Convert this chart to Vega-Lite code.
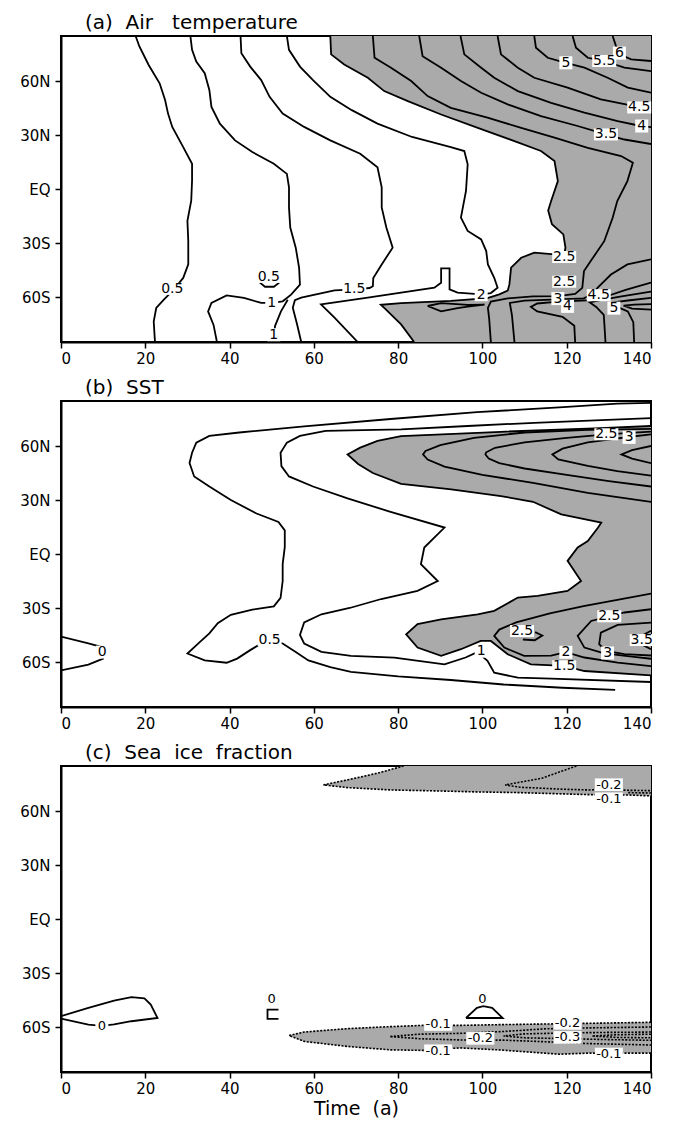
{
"$schema": "https://vega.github.io/schema/vega-lite/v6.json",
"background": "white",
"padding": {"left": 18, "top": 12, "right": 10, "bottom": 5},
"spacing": 10,
"config": {
  "view": {"stroke": "black", "strokeWidth": 2},
  "font": "DejaVu Sans",
  "axis": {"grid": false, "domain": true, "domainColor": "black", "domainWidth": 2, "ticks": true, "tickColor": "black", "tickSize": 6, "tickWidth": 1.5, "labelColor": "black", "labelFontSize": 15, "labelFont": "DejaVu Sans", "titleFont": "DejaVu Sans", "titleFontSize": 19, "titleFontWeight": "normal", "titleColor": "black", "zindex": 1},
  "title": {"anchor": "start", "frame": "group", "fontSize": 20, "fontWeight": "normal", "font": "DejaVu Sans", "offset": 3, "dx": 24, "color": "black"}
},
"datasets": {
"A": [
{"t":"f","g":"fa","x":63.9,"y":85},{"t":"f","g":"fa","x":64.1,"y":74.8},{"t":"f","g":"fa","x":67.2,"y":69.2},{"t":"f","g":"fa","x":72.8,"y":61.8},{"t":"f","g":"fa","x":76.7,"y":54.4},{"t":"f","g":"fa","x":82.3,"y":48.8},{"t":"f","g":"fa","x":90.2,"y":41.4},{"t":"f","g":"fa","x":98.9,"y":34},{"t":"f","g":"fa","x":107.6,"y":26.6},{"t":"f","g":"fa","x":113.9,"y":21.1},{"t":"f","g":"fa","x":117.1,"y":15.5},{"t":"f","g":"fa","x":117.9,"y":4.4},{"t":"f","g":"fa","x":116.3,"y":-6.7},{"t":"f","g":"fa","x":115.6,"y":-12},{"t":"f","g":"fa","x":116.5,"y":-19.6},{"t":"f","g":"fa","x":119.2,"y":-25.2},{"t":"f","g":"fa","x":119.7,"y":-32.6},{"t":"f","g":"fa","x":119.4,"y":-36.5},{"t":"f","g":"fa","x":117.1,"y":-36.3},{"t":"f","g":"fa","x":112.3,"y":-35.4},{"t":"f","g":"fa","x":109.2,"y":-38.2},{"t":"f","g":"fa","x":106.8,"y":-43.7},{"t":"f","g":"fa","x":106.4,"y":-53},{"t":"f","g":"fa","x":106,"y":-56.5},{"t":"f","g":"fa","x":104,"y":-58.5},{"t":"f","g":"fa","x":101.2,"y":-60.6},{"t":"f","g":"fa","x":92.5,"y":-62.2},{"t":"f","g":"fa","x":80.7,"y":-63.4},{"t":"f","g":"fa","x":75.9,"y":-64.3},{"t":"f","g":"fa","x":76.7,"y":-66},{"t":"f","g":"fa","x":80.7,"y":-75.2},{"t":"f","g":"fa","x":83.8,"y":-85},{"t":"f","g":"fa","x":140,"y":-85},{"t":"f","g":"fa","x":140,"y":85},

{"t":"s","g":"a05","x":17.7,"y":85},{"t":"s","g":"a05","x":18.6,"y":79.2},{"t":"s","g":"a05","x":20.8,"y":68.9},{"t":"s","g":"a05","x":23.4,"y":58.7},{"t":"s","g":"a05","x":24.7,"y":49.4},{"t":"s","g":"a05","x":25.4,"y":41.9},{"t":"s","g":"a05","x":26.4,"y":34.5},{"t":"s","g":"a05","x":29,"y":23.3},{"t":"s","g":"a05","x":31.1,"y":14},{"t":"s","g":"a05","x":31.1,"y":4.7},{"t":"s","g":"a05","x":30.9,"y":-6.5},{"t":"s","g":"a05","x":30,"y":-17.7},{"t":"s","g":"a05","x":30.2,"y":-28.9},{"t":"s","g":"a05","x":30.2,"y":-41.9},{"t":"s","g":"a05","x":29,"y":-49.4},{"t":"s","g":"a05","x":26.4,"y":-56.8},{"t":"s","g":"a05","x":24.4,"y":-61.5},{"t":"s","g":"a05","x":22.6,"y":-66.1},{"t":"s","g":"a05","x":22,"y":-73.6},{"t":"s","g":"a05","x":22.3,"y":-85},

{"t":"s","g":"a10","x":30.7,"y":85},{"t":"s","g":"a10","x":31.1,"y":77.3},{"t":"s","g":"a10","x":32.1,"y":70.8},{"t":"s","g":"a10","x":34.1,"y":64.3},{"t":"s","g":"a10","x":35.2,"y":55},{"t":"s","g":"a10","x":35.7,"y":45.6},{"t":"s","g":"a10","x":37.7,"y":36.3},{"t":"s","g":"a10","x":41.3,"y":27},{"t":"s","g":"a10","x":45.4,"y":20.5},{"t":"s","g":"a10","x":50.5,"y":14},{"t":"s","g":"a10","x":53.6,"y":8.4},{"t":"s","g":"a10","x":54.1,"y":0.9},{"t":"s","g":"a10","x":54.1,"y":-10.2},{"t":"s","g":"a10","x":54.4,"y":-21.4},{"t":"s","g":"a10","x":55.7,"y":-32.6},{"t":"s","g":"a10","x":56.5,"y":-43.8},{"t":"s","g":"a10","x":56.7,"y":-53.1},{"t":"s","g":"a10","x":54.6,"y":-58.7},{"t":"s","g":"a10","x":52.6,"y":-62.4},{"t":"s","g":"a10","x":50,"y":-63.3},{"t":"s","g":"a10","x":47.5,"y":-63.3},{"t":"s","g":"a10","x":43.4,"y":-60.5},{"t":"s","g":"a10","x":39.3,"y":-59.1},{"t":"s","g":"a10","x":35.7,"y":-63.3},{"t":"s","g":"a10","x":34.9,"y":-68},{"t":"s","g":"a10","x":36.2,"y":-75.5},{"t":"s","g":"a10","x":37,"y":-85},

{"t":"s","g":"a10b","x":53.8,"y":-61.5},{"t":"s","g":"a10b","x":52.2,"y":-68},{"t":"s","g":"a10b","x":50.8,"y":-76},{"t":"s","g":"a10b","x":50.3,"y":-85},

{"t":"s","g":"a05m","x":47.2,"y":-52},{"t":"s","g":"a05m","x":48.4,"y":-54.3},{"t":"s","g":"a05m","x":50.5,"y":-54.3},{"t":"s","g":"a05m","x":51.8,"y":-52},

{"t":"s","g":"a15","x":42.6,"y":85},{"t":"s","g":"a15","x":42.8,"y":75.4},{"t":"s","g":"a15","x":44.9,"y":68},{"t":"s","g":"a15","x":47.5,"y":60.5},{"t":"s","g":"a15","x":49.5,"y":51.2},{"t":"s","g":"a15","x":52.6,"y":41.9},{"t":"s","g":"a15","x":57.7,"y":34.5},{"t":"s","g":"a15","x":63.9,"y":27},{"t":"s","g":"a15","x":71,"y":19.6},{"t":"s","g":"a15","x":75.1,"y":12.1},{"t":"s","g":"a15","x":76.1,"y":0.9},{"t":"s","g":"a15","x":76.1,"y":-10.2},{"t":"s","g":"a15","x":77.2,"y":-21.4},{"t":"s","g":"a15","x":78.7,"y":-32.6},{"t":"s","g":"a15","x":76.1,"y":-41.9},{"t":"s","g":"a15","x":74.1,"y":-49.4},{"t":"s","g":"a15","x":74,"y":-54},{"t":"s","g":"a15","x":73.2,"y":-55},{"t":"s","g":"a15","x":69.6,"y":-55.8},{"t":"s","g":"a15","x":64.9,"y":-56.3},{"t":"s","g":"a15","x":57,"y":-60.4},{"t":"s","g":"a15","x":55.5,"y":-61.8},{"t":"s","g":"a15","x":55,"y":-66},{"t":"s","g":"a15","x":56,"y":-75},{"t":"s","g":"a15","x":57,"y":-85},

{"t":"s","g":"a20","x":53.6,"y":85},{"t":"s","g":"a20","x":54.1,"y":77.3},{"t":"s","g":"a20","x":56.7,"y":68},{"t":"s","g":"a20","x":59.8,"y":60.5},{"t":"s","g":"a20","x":63.9,"y":51.2},{"t":"s","g":"a20","x":69,"y":43.8},{"t":"s","g":"a20","x":75.1,"y":36.3},{"t":"s","g":"a20","x":83.3,"y":28.9},{"t":"s","g":"a20","x":92.5,"y":23.3},{"t":"s","g":"a20","x":95.7,"y":21.1},{"t":"s","g":"a20","x":96.5,"y":13.7},{"t":"s","g":"a20","x":96.1,"y":-1.1},{"t":"s","g":"a20","x":94.9,"y":-15.9},{"t":"s","g":"a20","x":96.5,"y":-23.3},{"t":"s","g":"a20","x":99.7,"y":-28},{"t":"s","g":"a20","x":100.9,"y":-34.5},{"t":"s","g":"a20","x":101.3,"y":-41.9},{"t":"s","g":"a20","x":102.8,"y":-49.3},{"t":"s","g":"a20","x":103.6,"y":-54.8},{"t":"s","g":"a20","x":102,"y":-57.8},{"t":"s","g":"a20","x":99.7,"y":-58.5},{"t":"s","g":"a20","x":94.1,"y":-57.6},{"t":"s","g":"a20","x":92.2,"y":-55.8},{"t":"s","g":"a20","x":92.2,"y":-44.1},{"t":"s","g":"a20","x":90.2,"y":-44.1},{"t":"s","g":"a20","x":90.2,"y":-52.1},{"t":"s","g":"a20","x":88.6,"y":-54.8},{"t":"s","g":"a20","x":72.8,"y":-60.4},{"t":"s","g":"a20","x":61.7,"y":-64.1},{"t":"s","g":"a20","x":64.9,"y":-71.5},{"t":"s","g":"a20","x":70.4,"y":-85},

{"t":"s","g":"a25","x":63.9,"y":85},{"t":"s","g":"a25","x":64.1,"y":74.8},{"t":"s","g":"a25","x":67.2,"y":69.2},{"t":"s","g":"a25","x":72.8,"y":61.8},{"t":"s","g":"a25","x":76.7,"y":54.4},{"t":"s","g":"a25","x":82.3,"y":48.8},{"t":"s","g":"a25","x":90.2,"y":41.4},{"t":"s","g":"a25","x":98.9,"y":34},{"t":"s","g":"a25","x":107.6,"y":26.6},{"t":"s","g":"a25","x":113.9,"y":21.1},{"t":"s","g":"a25","x":117.1,"y":15.5},{"t":"s","g":"a25","x":117.9,"y":4.4},{"t":"s","g":"a25","x":116.3,"y":-6.7},{"t":"s","g":"a25","x":115.6,"y":-12},{"t":"s","g":"a25","x":116.5,"y":-19.6},{"t":"s","g":"a25","x":119.2,"y":-25.2},{"t":"s","g":"a25","x":119.7,"y":-32.6},{"t":"s","g":"a25","x":119.4,"y":-36.5},{"t":"s","g":"a25","x":117.1,"y":-36.3},{"t":"s","g":"a25","x":112.3,"y":-35.4},{"t":"s","g":"a25","x":109.2,"y":-38.2},{"t":"s","g":"a25","x":106.8,"y":-43.7},{"t":"s","g":"a25","x":106.4,"y":-53},{"t":"s","g":"a25","x":106,"y":-56.5},{"t":"s","g":"a25","x":104,"y":-58.5},{"t":"s","g":"a25","x":101.2,"y":-60.6},{"t":"s","g":"a25","x":92.5,"y":-62.2},{"t":"s","g":"a25","x":80.7,"y":-63.4},{"t":"s","g":"a25","x":75.9,"y":-64.3},{"t":"s","g":"a25","x":76.7,"y":-66},{"t":"s","g":"a25","x":80.7,"y":-75.2},{"t":"s","g":"a25","x":83.8,"y":-85},

{"t":"s","g":"a30","x":74,"y":85},{"t":"s","g":"a30","x":74.4,"y":72.9},{"t":"s","g":"a30","x":78.3,"y":67.4},{"t":"s","g":"a30","x":83.1,"y":60},{"t":"s","g":"a30","x":87,"y":51.6},{"t":"s","g":"a30","x":92.5,"y":45.1},{"t":"s","g":"a30","x":101.2,"y":39.6},{"t":"s","g":"a30","x":109.2,"y":34},{"t":"s","g":"a30","x":117.1,"y":28.5},{"t":"s","g":"a30","x":125,"y":22.9},{"t":"s","g":"a30","x":132.9,"y":18.3},{"t":"s","g":"a30","x":135.7,"y":14.6},{"t":"s","g":"a30","x":134.4,"y":4.4},{"t":"s","g":"a30","x":132,"y":-6.7},{"t":"s","g":"a30","x":130.9,"y":-16},{"t":"s","g":"a30","x":128.9,"y":-29},{"t":"s","g":"a30","x":125.7,"y":-40},{"t":"s","g":"a30","x":124.1,"y":-45.6},{"t":"s","g":"a30","x":123.7,"y":-54.9},{"t":"s","g":"a30","x":122,"y":-58.3},{"t":"s","g":"a30","x":118,"y":-59.5},{"t":"s","g":"a30","x":112,"y":-59.7},{"t":"s","g":"a30","x":106,"y":-60.8},{"t":"s","g":"a30","x":102,"y":-62.5},{"t":"s","g":"a30","x":101.3,"y":-66},{"t":"s","g":"a30","x":101.6,"y":-72},{"t":"s","g":"a30","x":102,"y":-85},

{"t":"s","g":"a35","x":85,"y":85},{"t":"s","g":"a35","x":85.8,"y":73.8},{"t":"s","g":"a35","x":90.2,"y":67.4},{"t":"s","g":"a35","x":94.9,"y":60},{"t":"s","g":"a35","x":99.7,"y":53.5},{"t":"s","g":"a35","x":106,"y":47},{"t":"s","g":"a35","x":113.9,"y":40.5},{"t":"s","g":"a35","x":122.6,"y":35},{"t":"s","g":"a35","x":129.3,"y":30.3},{"t":"s","g":"a35","x":133.7,"y":27.5},{"t":"s","g":"a35","x":140,"y":25},

{"t":"s","g":"a40","x":94.8,"y":85},{"t":"s","g":"a40","x":95.7,"y":74.8},{"t":"s","g":"a40","x":99.7,"y":67.4},{"t":"s","g":"a40","x":102.8,"y":61.8},{"t":"s","g":"a40","x":108.4,"y":54.4},{"t":"s","g":"a40","x":116.3,"y":47.9},{"t":"s","g":"a40","x":124.2,"y":42.4},{"t":"s","g":"a40","x":132.1,"y":37.7},{"t":"s","g":"a40","x":137.6,"y":35},{"t":"s","g":"a40","x":140,"y":34.4},

{"t":"s","g":"a45","x":103.6,"y":85},{"t":"s","g":"a45","x":104.4,"y":74.8},{"t":"s","g":"a45","x":108.4,"y":67.4},{"t":"s","g":"a45","x":112.3,"y":61.8},{"t":"s","g":"a45","x":120.2,"y":56.3},{"t":"s","g":"a45","x":128.1,"y":49.8},{"t":"s","g":"a45","x":136.1,"y":46.1},{"t":"s","g":"a45","x":140,"y":44.2},

{"t":"s","g":"a50","x":112.3,"y":85},{"t":"s","g":"a50","x":112.7,"y":78.5},{"t":"s","g":"a50","x":115.5,"y":72.9},{"t":"s","g":"a50","x":119.8,"y":70.1},{"t":"s","g":"a50","x":124.2,"y":67.4},{"t":"s","g":"a50","x":129.7,"y":61.8},{"t":"s","g":"a50","x":134.5,"y":56.3},{"t":"s","g":"a50","x":140,"y":53.5},

{"t":"s","g":"a55","x":121.4,"y":85},{"t":"s","g":"a55","x":122.2,"y":78.5},{"t":"s","g":"a55","x":125,"y":72.9},{"t":"s","g":"a55","x":128.9,"y":71.1},{"t":"s","g":"a55","x":133.7,"y":67.4},{"t":"s","g":"a55","x":140,"y":65.5},

{"t":"s","g":"a60","x":130.9,"y":85},{"t":"s","g":"a60","x":131.7,"y":79.4},{"t":"s","g":"a60","x":132.5,"y":74.8},{"t":"s","g":"a60","x":135.3,"y":72},{"t":"s","g":"a60","x":140,"y":71.1},

{"t":"s","g":"aR","x":140,"y":-39.1},{"t":"s","g":"aR","x":134.4,"y":-41.9},{"t":"s","g":"aR","x":130.5,"y":-47.5},{"t":"s","g":"aR","x":127.3,"y":-54.9},{"t":"s","g":"aR","x":126.1,"y":-58.6},{"t":"s","g":"aR","x":124,"y":-60.8},{"t":"s","g":"aR","x":118,"y":-61.3},{"t":"s","g":"aR","x":110,"y":-62},{"t":"s","g":"aR","x":106.5,"y":-63.3},{"t":"s","g":"aR","x":107,"y":-70},{"t":"s","g":"aR","x":107.6,"y":-85},

{"t":"s","g":"aB4","x":140,"y":-52},{"t":"s","g":"aB4","x":134,"y":-56},{"t":"s","g":"aB4","x":129,"y":-60},{"t":"s","g":"aB4","x":125,"y":-61.8},{"t":"s","g":"aB4","x":118,"y":-62.6},{"t":"s","g":"aB4","x":113,"y":-63.6},{"t":"s","g":"aB4","x":111.5,"y":-65.5},{"t":"s","g":"aB4","x":113,"y":-68},{"t":"s","g":"aB4","x":119,"y":-71},{"t":"s","g":"aB4","x":121.8,"y":-76},{"t":"s","g":"aB4","x":122,"y":-85},

{"t":"s","g":"aB45","x":140,"y":-57},{"t":"s","g":"aB45","x":133,"y":-59.6},{"t":"s","g":"aB45","x":128,"y":-61.8},{"t":"s","g":"aB45","x":125.5,"y":-63},{"t":"s","g":"aB45","x":127,"y":-65.5},{"t":"s","g":"aB45","x":128.8,"y":-70},{"t":"s","g":"aB45","x":129.2,"y":-85},

{"t":"s","g":"aB5","x":140,"y":-60.5},{"t":"s","g":"aB5","x":135,"y":-61.8},{"t":"s","g":"aB5","x":131,"y":-63},{"t":"s","g":"aB5","x":132,"y":-65.5},{"t":"s","g":"aB5","x":134.5,"y":-68},{"t":"s","g":"aB5","x":135.8,"y":-74},{"t":"s","g":"aB5","x":136,"y":-85},

{"t":"s","g":"aB55","x":140,"y":-64},{"t":"s","g":"aB55","x":136,"y":-64.2},{"t":"s","g":"aB55","x":133.5,"y":-64.8},{"t":"s","g":"aB55","x":135.5,"y":-66.5},{"t":"s","g":"aB55","x":140,"y":-67},

{"t":"s","g":"aL","x":87,"y":-65},{"t":"s","g":"aL","x":90.2,"y":-63.4},{"t":"s","g":"aL","x":96.5,"y":-64.4},{"t":"s","g":"aL","x":100.5,"y":-64.2},{"t":"s","g":"aL","x":96.5,"y":-65.4},{"t":"s","g":"aL","x":94.1,"y":-66.2},{"t":"s","g":"aL","x":90.2,"y":-68},{"t":"s","g":"aL","x":87,"y":-65}
],
"AL": [
{"s":"0.5","x":26.4,"y":-55.5},{"s":"0.5","x":49.3,"y":-48.8},{"s":"1","x":50,"y":-63.3},{"s":"1","x":50.5,"y":-81},{"s":"1.5","x":69.6,"y":-55.8},{"s":"2","x":99.7,"y":-58.7},{"s":"2.5","x":119.4,"y":-37.8},{"s":"2.5","x":119.4,"y":-51.5},{"s":"3","x":117.9,"y":-60.9},{"s":"4","x":120.2,"y":-65.2},{"s":"4.5","x":127.6,"y":-59},{"s":"5","x":131.2,"y":-66.2},{"s":"3.5","x":129.3,"y":30.3},{"s":"4","x":137.8,"y":35},{"s":"4.5","x":137.2,"y":45.3},{"s":"5","x":119.8,"y":70.1},{"s":"5.5","x":128.9,"y":71.1},{"s":"6","x":132.5,"y":75.5}
],
"B": [
{"t":"f","g":"fb","x":140,"y":71.1},{"t":"f","g":"fb","x":126.6,"y":69.8},{"t":"f","g":"fb","x":104.4,"y":67.9},{"t":"f","g":"fb","x":80.7,"y":65.5},{"t":"f","g":"fb","x":75.1,"y":62.8},{"t":"f","g":"fb","x":71,"y":59.1},{"t":"f","g":"fb","x":68,"y":55.3},{"t":"f","g":"fb","x":70.5,"y":50},{"t":"f","g":"fb","x":74,"y":45},{"t":"f","g":"fb","x":80.7,"y":39},{"t":"f","g":"fb","x":92.6,"y":35.9},{"t":"f","g":"fb","x":104.4,"y":32.2},{"t":"f","g":"fb","x":112,"y":29},{"t":"f","g":"fb","x":118.7,"y":22},{"t":"f","g":"fb","x":128.2,"y":17.4},{"t":"f","g":"fb","x":127.4,"y":14.6},{"t":"f","g":"fb","x":125,"y":7.2},{"t":"f","g":"fb","x":122.6,"y":3.6},{"t":"f","g":"fb","x":120.2,"y":-3.8},{"t":"f","g":"fb","x":123.4,"y":-15},{"t":"f","g":"fb","x":120.2,"y":-20.5},{"t":"f","g":"fb","x":113.1,"y":-23.3},{"t":"f","g":"fb","x":108.4,"y":-24.2},{"t":"f","g":"fb","x":102.8,"y":-31.6},{"t":"f","g":"fb","x":98.9,"y":-33.5},{"t":"f","g":"fb","x":90.2,"y":-36.3},{"t":"f","g":"fb","x":84.6,"y":-39},{"t":"f","g":"fb","x":81.9,"y":-44.6},{"t":"f","g":"fb","x":84.6,"y":-52},{"t":"f","g":"fb","x":90.2,"y":-56.6},{"t":"f","g":"fb","x":94.9,"y":-52.9},{"t":"f","g":"fb","x":99.6,"y":-48.3},{"t":"f","g":"fb","x":102,"y":-48.3},{"t":"f","g":"fb","x":106,"y":-55.7},{"t":"f","g":"fb","x":111.5,"y":-61.3},{"t":"f","g":"fb","x":119.4,"y":-62.2},{"t":"f","g":"fb","x":124.2,"y":-65},{"t":"f","g":"fb","x":140,"y":-67.4},

{"t":"s","g":"b15","x":140,"y":71.1},{"t":"s","g":"b15","x":126.6,"y":69.8},{"t":"s","g":"b15","x":104.4,"y":67.9},{"t":"s","g":"b15","x":80.7,"y":65.5},{"t":"s","g":"b15","x":75.1,"y":62.8},{"t":"s","g":"b15","x":71,"y":59.1},{"t":"s","g":"b15","x":68,"y":55.3},{"t":"s","g":"b15","x":70.5,"y":50},{"t":"s","g":"b15","x":74,"y":45},{"t":"s","g":"b15","x":80.7,"y":39},{"t":"s","g":"b15","x":92.6,"y":35.9},{"t":"s","g":"b15","x":104.4,"y":32.2},{"t":"s","g":"b15","x":112,"y":29},{"t":"s","g":"b15","x":118.7,"y":22},{"t":"s","g":"b15","x":128.2,"y":17.4},{"t":"s","g":"b15","x":127.4,"y":14.6},{"t":"s","g":"b15","x":125,"y":7.2},{"t":"s","g":"b15","x":122.6,"y":3.6},{"t":"s","g":"b15","x":120.2,"y":-3.8},{"t":"s","g":"b15","x":123.4,"y":-15},{"t":"s","g":"b15","x":120.2,"y":-20.5},{"t":"s","g":"b15","x":113.1,"y":-23.3},{"t":"s","g":"b15","x":108.4,"y":-24.2},{"t":"s","g":"b15","x":102.8,"y":-31.6},{"t":"s","g":"b15","x":98.9,"y":-33.5},{"t":"s","g":"b15","x":90.2,"y":-36.3},{"t":"s","g":"b15","x":84.6,"y":-39},{"t":"s","g":"b15","x":81.9,"y":-44.6},{"t":"s","g":"b15","x":84.6,"y":-52},{"t":"s","g":"b15","x":90.2,"y":-56.6},{"t":"s","g":"b15","x":94.9,"y":-52.9},{"t":"s","g":"b15","x":99.6,"y":-48.3},{"t":"s","g":"b15","x":102,"y":-48.3},{"t":"s","g":"b15","x":106,"y":-55.7},{"t":"s","g":"b15","x":111.5,"y":-61.3},{"t":"s","g":"b15","x":119.4,"y":-62.2},{"t":"s","g":"b15","x":124.2,"y":-65},{"t":"s","g":"b15","x":140,"y":-67.4},

{"t":"s","g":"b0","x":0,"y":-45.9},{"t":"s","g":"b0","x":6.5,"y":-49.7},{"t":"s","g":"b0","x":9.5,"y":-51.6},{"t":"s","g":"b0","x":10,"y":-54},{"t":"s","g":"b0","x":10,"y":-58.1},{"t":"s","g":"b0","x":6.5,"y":-61.5},{"t":"s","g":"b0","x":0,"y":-64.7},

{"t":"s","g":"b05","x":140,"y":84},{"t":"s","g":"b05","x":132,"y":83.5},{"t":"s","g":"b05","x":119.2,"y":81.6},{"t":"s","g":"b05","x":98.7,"y":78.8},{"t":"s","g":"b05","x":78.2,"y":75},{"t":"s","g":"b05","x":57.7,"y":70.9},{"t":"s","g":"b05","x":42.3,"y":67.5},{"t":"s","g":"b05","x":35.2,"y":65.6},{"t":"s","g":"b05","x":32.1,"y":61.9},{"t":"s","g":"b05","x":31.1,"y":56.3},{"t":"s","g":"b05","x":30.5,"y":50.6},{"t":"s","g":"b05","x":31.6,"y":43.1},{"t":"s","g":"b05","x":35.2,"y":37.5},{"t":"s","g":"b05","x":40.3,"y":30},{"t":"s","g":"b05","x":46.4,"y":22.5},{"t":"s","g":"b05","x":51.6,"y":17.8},{"t":"s","g":"b05","x":53.1,"y":13.1},{"t":"s","g":"b05","x":53.1,"y":3.8},{"t":"s","g":"b05","x":52.6,"y":-5.6},{"t":"s","g":"b05","x":52.6,"y":-15},{"t":"s","g":"b05","x":52.1,"y":-24.4},{"t":"s","g":"b05","x":50.5,"y":-29.1},{"t":"s","g":"b05","x":45.4,"y":-30.9},{"t":"s","g":"b05","x":40.3,"y":-33.8},{"t":"s","g":"b05","x":37.2,"y":-38.4},{"t":"s","g":"b05","x":35.2,"y":-44.1},{"t":"s","g":"b05","x":32.6,"y":-49.7},{"t":"s","g":"b05","x":30,"y":-55.3},{"t":"s","g":"b05","x":34.1,"y":-59.1},{"t":"s","g":"b05","x":39.3,"y":-60.4},{"t":"s","g":"b05","x":41.8,"y":-58.1},{"t":"s","g":"b05","x":44.9,"y":-53.4},{"t":"s","g":"b05","x":47.5,"y":-49.7},{"t":"s","g":"b05","x":49.5,"y":-47.8},{"t":"s","g":"b05","x":52.6,"y":-49.7},{"t":"s","g":"b05","x":55.7,"y":-54.4},{"t":"s","g":"b05","x":58.7,"y":-59.1},{"t":"s","g":"b05","x":63.9,"y":-62.8},{"t":"s","g":"b05","x":68.8,"y":-65.5},{"t":"s","g":"b05","x":80,"y":-68},{"t":"s","g":"b05","x":92.5,"y":-70},{"t":"s","g":"b05","x":105,"y":-72.5},{"t":"s","g":"b05","x":119,"y":-74.3},{"t":"s","g":"b05","x":131.5,"y":-75.5},

{"t":"s","g":"b10","x":140,"y":75.5},{"t":"s","g":"b10","x":128.2,"y":74.4},{"t":"s","g":"b10","x":112.3,"y":72.9},{"t":"s","g":"b10","x":96.5,"y":71.1},{"t":"s","g":"b10","x":80.7,"y":69.2},{"t":"s","g":"b10","x":62.8,"y":68.4},{"t":"s","g":"b10","x":56.7,"y":65.6},{"t":"s","g":"b10","x":53.6,"y":61.9},{"t":"s","g":"b10","x":52.1,"y":56.3},{"t":"s","g":"b10","x":52.3,"y":48.8},{"t":"s","g":"b10","x":54.1,"y":43.1},{"t":"s","g":"b10","x":59.8,"y":37.5},{"t":"s","g":"b10","x":68,"y":30.9},{"t":"s","g":"b10","x":78.2,"y":23.4},{"t":"s","g":"b10","x":91,"y":14.7},{"t":"s","g":"b10","x":86.2,"y":3.6},{"t":"s","g":"b10","x":85.4,"y":-5.7},{"t":"s","g":"b10","x":89.4,"y":-15},{"t":"s","g":"b10","x":84.6,"y":-20.5},{"t":"s","g":"b10","x":76,"y":-25},{"t":"s","g":"b10","x":68.5,"y":-30},{"t":"s","g":"b10","x":61.8,"y":-33.5},{"t":"s","g":"b10","x":57.7,"y":-38},{"t":"s","g":"b10","x":56.7,"y":-45},{"t":"s","g":"b10","x":57.7,"y":-49.7},{"t":"s","g":"b10","x":61.8,"y":-54.4},{"t":"s","g":"b10","x":68.8,"y":-56.6},{"t":"s","g":"b10","x":79.1,"y":-57.6},{"t":"s","g":"b10","x":91,"y":-61.3},{"t":"s","g":"b10","x":96,"y":-57.5},{"t":"s","g":"b10","x":98.8,"y":-54.5},{"t":"s","g":"b10","x":101.2,"y":-59.4},{"t":"s","g":"b10","x":102.8,"y":-65.9},{"t":"s","g":"b10","x":108.4,"y":-68.7},{"t":"s","g":"b10","x":116.3,"y":-69.2},{"t":"s","g":"b10","x":140,"y":-71.1},

{"t":"s","g":"b20n","x":140,"y":69.5},{"t":"s","g":"b20n","x":125,"y":69},{"t":"s","g":"b20n","x":110,"y":67.5},{"t":"s","g":"b20n","x":98,"y":64.5},{"t":"s","g":"b20n","x":90,"y":60.5},{"t":"s","g":"b20n","x":86.5,"y":57.2},{"t":"s","g":"b20n","x":85.9,"y":55.3},{"t":"s","g":"b20n","x":87,"y":52.5},{"t":"s","g":"b20n","x":91,"y":48.5},{"t":"s","g":"b20n","x":100,"y":44},{"t":"s","g":"b20n","x":112,"y":39.5},{"t":"s","g":"b20n","x":125,"y":34},{"t":"s","g":"b20n","x":140,"y":29},

{"t":"s","g":"b25n","x":140,"y":68},{"t":"s","g":"b25n","x":129.4,"y":66.5},{"t":"s","g":"b25n","x":120,"y":64.5},{"t":"s","g":"b25n","x":110,"y":62},{"t":"s","g":"b25n","x":103,"y":59},{"t":"s","g":"b25n","x":100.9,"y":56.5},{"t":"s","g":"b25n","x":100.7,"y":55.3},{"t":"s","g":"b25n","x":101.5,"y":53},{"t":"s","g":"b25n","x":104,"y":50.5},{"t":"s","g":"b25n","x":110,"y":47.5},{"t":"s","g":"b25n","x":120,"y":44},{"t":"s","g":"b25n","x":130,"y":40.5},{"t":"s","g":"b25n","x":140,"y":37.5},

{"t":"s","g":"b30n","x":140,"y":66.5},{"t":"s","g":"b30n","x":134.6,"y":65},{"t":"s","g":"b30n","x":125,"y":62},{"t":"s","g":"b30n","x":119,"y":58.5},{"t":"s","g":"b30n","x":116.6,"y":55.3},{"t":"s","g":"b30n","x":118,"y":52.5},{"t":"s","g":"b30n","x":125,"y":49},{"t":"s","g":"b30n","x":132,"y":46},{"t":"s","g":"b30n","x":140,"y":43.5},

{"t":"s","g":"b35n","x":140,"y":60},{"t":"s","g":"b35n","x":135.5,"y":57.7},{"t":"s","g":"b35n","x":133,"y":55.3},{"t":"s","g":"b35n","x":135.5,"y":53},{"t":"s","g":"b35n","x":140,"y":50.5},

{"t":"s","g":"b20s","x":140,"y":-22},{"t":"s","g":"b20s","x":132,"y":-25.5},{"t":"s","g":"b20s","x":124,"y":-29},{"t":"s","g":"b20s","x":116,"y":-33},{"t":"s","g":"b20s","x":108,"y":-38},{"t":"s","g":"b20s","x":104,"y":-42},{"t":"s","g":"b20s","x":102.8,"y":-45.5},{"t":"s","g":"b20s","x":105.2,"y":-52},{"t":"s","g":"b20s","x":109.9,"y":-56.6},{"t":"s","g":"b20s","x":116.3,"y":-56.5},{"t":"s","g":"b20s","x":119.8,"y":-54.5},{"t":"s","g":"b20s","x":124.2,"y":-57.5},{"t":"s","g":"b20s","x":132.1,"y":-60.3},{"t":"s","g":"b20s","x":140,"y":-62.3},

{"t":"s","g":"b25s","x":140,"y":-30.7},{"t":"s","g":"b25s","x":133.7,"y":-32.5},{"t":"s","g":"b25s","x":125.8,"y":-37.2},{"t":"s","g":"b25s","x":122.6,"y":-45.5},{"t":"s","g":"b25s","x":124.2,"y":-52},{"t":"s","g":"b25s","x":128.9,"y":-55.2},{"t":"s","g":"b25s","x":136,"y":-57.2},{"t":"s","g":"b25s","x":140,"y":-58.2},

{"t":"s","g":"b30s","x":140,"y":-38.1},{"t":"s","g":"b30s","x":132.1,"y":-39.4},{"t":"s","g":"b30s","x":128.1,"y":-43.7},{"t":"s","g":"b30s","x":127.7,"y":-50.1},{"t":"s","g":"b30s","x":129.3,"y":-53.8},{"t":"s","g":"b30s","x":133.7,"y":-55.6},{"t":"s","g":"b30s","x":140,"y":-56.4},

{"t":"s","g":"b35s","x":140,"y":-42.7},{"t":"s","g":"b35s","x":138.4,"y":-44.6},{"t":"s","g":"b35s","x":137.8,"y":-48},{"t":"s","g":"b35s","x":138,"y":-50.5},{"t":"s","g":"b35s","x":140,"y":-52.9},

{"t":"s","g":"b25h","x":112.5,"y":-43.4},{"t":"s","g":"b25h","x":114.2,"y":-45.3},{"t":"s","g":"b25h","x":112.4,"y":-47.9},{"t":"s","g":"b25h","x":109.6,"y":-47.5}
],
"BL": [
{"s":"0","x":9.8,"y":-54.5},{"s":"0.5","x":49.5,"y":-47.8},{"s":"1","x":99.7,"y":-54},{"s":"1.5","x":119.4,"y":-62.4},{"s":"2","x":119.8,"y":-54.6},{"s":"2.5","x":109.4,"y":-42.8},{"s":"2.5","x":130.1,"y":-34.6},{"s":"3","x":129.7,"y":-55},{"s":"3.5","x":137.8,"y":-47.8},{"s":"2.5","x":129.4,"y":66.5},{"s":"3","x":134.8,"y":64.8}
],
"C": [
{"t":"f","g":"fcn","x":81.3,"y":85},{"t":"f","g":"fcn","x":75.1,"y":81},{"t":"f","g":"fcn","x":68,"y":77.3},{"t":"f","g":"fcn","x":62.3,"y":74.5},{"t":"f","g":"fcn","x":68,"y":73},{"t":"f","g":"fcn","x":78.2,"y":71.7},{"t":"f","g":"fcn","x":88.4,"y":71.2},{"t":"f","g":"fcn","x":98.7,"y":70.6},{"t":"f","g":"fcn","x":108.9,"y":70.2},{"t":"f","g":"fcn","x":119.2,"y":69.5},{"t":"f","g":"fcn","x":125.3,"y":69.1},{"t":"f","g":"fcn","x":130,"y":68.9},{"t":"f","g":"fcn","x":134.6,"y":68.9},{"t":"f","g":"fcn","x":140,"y":68.4},{"t":"f","g":"fcn","x":140,"y":85},

{"t":"f","g":"fcs","x":140,"y":-57.4},{"t":"f","g":"fcs","x":116.1,"y":-58.3},{"t":"f","g":"fcs","x":103.8,"y":-58.7},{"t":"f","g":"fcs","x":94.6,"y":-59.1},{"t":"f","g":"fcs","x":85.9,"y":-59.1},{"t":"f","g":"fcs","x":78.2,"y":-59.8},{"t":"f","g":"fcs","x":68,"y":-60.9},{"t":"f","g":"fcs","x":57.7,"y":-62.8},{"t":"f","g":"fcs","x":54.1,"y":-64.7},{"t":"f","g":"fcs","x":57.7,"y":-68},{"t":"f","g":"fcs","x":68,"y":-70.8},{"t":"f","g":"fcs","x":78.2,"y":-72.7},{"t":"f","g":"fcs","x":85.9,"y":-73},{"t":"f","g":"fcs","x":94.6,"y":-71.6},{"t":"f","g":"fcs","x":103.8,"y":-72.7},{"t":"f","g":"fcs","x":118.2,"y":-75.1},{"t":"f","g":"fcs","x":125.3,"y":-74.5},{"t":"f","g":"fcs","x":140,"y":-74.5},

{"t":"d","g":"cn1","x":81.3,"y":85},{"t":"d","g":"cn1","x":75.1,"y":81},{"t":"d","g":"cn1","x":68,"y":77.3},{"t":"d","g":"cn1","x":62.3,"y":74.5},{"t":"d","g":"cn1","x":68,"y":73},{"t":"d","g":"cn1","x":78.2,"y":71.7},{"t":"d","g":"cn1","x":88.4,"y":71.2},{"t":"d","g":"cn1","x":98.7,"y":70.6},{"t":"d","g":"cn1","x":108.9,"y":70.2},{"t":"d","g":"cn1","x":119.2,"y":69.5},{"t":"d","g":"cn1","x":125.3,"y":69.1},{"t":"d","g":"cn1","x":130,"y":68.9},{"t":"d","g":"cn1","x":134.6,"y":68.9},{"t":"d","g":"cn1","x":140,"y":68.4},

{"t":"d","g":"cn2","x":122.3,"y":85},{"t":"d","g":"cn2","x":114.1,"y":78.2},{"t":"d","g":"cn2","x":105.4,"y":74.5},{"t":"d","g":"cn2","x":108.9,"y":73.2},{"t":"d","g":"cn2","x":119.2,"y":72.1},{"t":"d","g":"cn2","x":125.3,"y":71.7},{"t":"d","g":"cn2","x":130,"y":72},{"t":"d","g":"cn2","x":134.6,"y":71.5},{"t":"d","g":"cn2","x":140,"y":71.3},

{"t":"d","g":"cn3","x":134.6,"y":70.2},{"t":"d","g":"cn3","x":140,"y":70},

{"t":"d","g":"cs1","x":140,"y":-57.4},{"t":"d","g":"cs1","x":116.1,"y":-58.3},{"t":"d","g":"cs1","x":103.8,"y":-58.7},{"t":"d","g":"cs1","x":94.6,"y":-59.1},{"t":"d","g":"cs1","x":85.9,"y":-59.1},{"t":"d","g":"cs1","x":78.2,"y":-59.8},{"t":"d","g":"cs1","x":68,"y":-60.9},{"t":"d","g":"cs1","x":57.7,"y":-62.8},{"t":"d","g":"cs1","x":54.1,"y":-64.7},{"t":"d","g":"cs1","x":57.7,"y":-68},{"t":"d","g":"cs1","x":68,"y":-70.8},{"t":"d","g":"cs1","x":78.2,"y":-72.7},{"t":"d","g":"cs1","x":85.9,"y":-73},{"t":"d","g":"cs1","x":94.6,"y":-71.6},{"t":"d","g":"cs1","x":103.8,"y":-72.7},{"t":"d","g":"cs1","x":118.2,"y":-75.1},{"t":"d","g":"cs1","x":125.3,"y":-74.5},{"t":"d","g":"cs1","x":140,"y":-74.5},

{"t":"d","g":"cs2","x":140,"y":-60},{"t":"d","g":"cs2","x":125,"y":-60.5},{"t":"d","g":"cs2","x":115,"y":-61},{"t":"d","g":"cs2","x":105,"y":-62.5},{"t":"d","g":"cs2","x":95,"y":-63.5},{"t":"d","g":"cs2","x":85,"y":-64},{"t":"d","g":"cs2","x":78,"y":-65.3},{"t":"d","g":"cs2","x":85,"y":-66.5},{"t":"d","g":"cs2","x":95,"y":-67.2},{"t":"d","g":"cs2","x":105,"y":-67.3},{"t":"d","g":"cs2","x":115,"y":-68.2},{"t":"d","g":"cs2","x":125,"y":-69.2},{"t":"d","g":"cs2","x":140,"y":-70},

{"t":"d","g":"cs3","x":140,"y":-62.8},{"t":"d","g":"cs3","x":130,"y":-63},{"t":"d","g":"cs3","x":120,"y":-63.3},{"t":"d","g":"cs3","x":110,"y":-63.8},{"t":"d","g":"cs3","x":105,"y":-65},{"t":"d","g":"cs3","x":110,"y":-66},{"t":"d","g":"cs3","x":120,"y":-66.5},{"t":"d","g":"cs3","x":130,"y":-67},{"t":"d","g":"cs3","x":140,"y":-67.4},

{"t":"d","g":"cs4","x":140,"y":-64},{"t":"d","g":"cs4","x":132,"y":-64.3},{"t":"d","g":"cs4","x":126,"y":-65},{"t":"d","g":"cs4","x":132,"y":-65.8},{"t":"d","g":"cs4","x":140,"y":-66},

{"t":"s","g":"c0a","x":0,"y":-54},{"t":"s","g":"c0a","x":6.5,"y":-49.4},{"t":"s","g":"c0a","x":12.6,"y":-45.3},{"t":"s","g":"c0a","x":16.7,"y":-43.4},{"t":"s","g":"c0a","x":19.8,"y":-44.1},{"t":"s","g":"c0a","x":21.3,"y":-47.5},{"t":"s","g":"c0a","x":22.9,"y":-55},{"t":"s","g":"c0a","x":16.7,"y":-56.8},{"t":"s","g":"c0a","x":12.6,"y":-58.6},{"t":"s","g":"c0a","x":9.7,"y":-59.4},{"t":"s","g":"c0a","x":6.5,"y":-58.7},{"t":"s","g":"c0a","x":0,"y":-55.3},

{"t":"s","g":"c0b","x":51.6,"y":-50.3},{"t":"s","g":"c0b","x":49,"y":-50.3},{"t":"s","g":"c0b","x":49,"y":-55.5},{"t":"s","g":"c0b","x":51.6,"y":-55.5},

{"t":"s","g":"c0c","x":96.1,"y":-55},{"t":"s","g":"c0c","x":98.7,"y":-49.4},{"t":"s","g":"c0c","x":100.2,"y":-48.4},{"t":"s","g":"c0c","x":102.3,"y":-49.4},{"t":"s","g":"c0c","x":104.8,"y":-55},{"t":"s","g":"c0c","x":96.1,"y":-55}
],
"CL": [
{"s":"-0.2","x":130,"y":74.6},{"s":"-0.1","x":130,"y":66.8},{"s":"-0.1","x":89.5,"y":-58.6},{"s":"-0.2","x":99.5,"y":-66.3},{"s":"-0.1","x":89.5,"y":-73.2},{"s":"-0.2","x":120.2,"y":-58},{"s":"-0.3","x":120.2,"y":-65.8},{"s":"-0.1","x":130,"y":-75},{"s":"0","x":9.7,"y":-59.6},{"s":"0","x":50,"y":-44.7},{"s":"0","x":100,"y":-44.2}
]
},
"vconcat": [
{
  "title": {"text": "(a)\u00a0\u00a0Air\u00a0\u00a0\u00a0temperature"},
  "width": 590, "height": 306,
  "encoding": {
    "x": {"field": "x", "type": "quantitative", "scale": {"domain": [0, 140], "nice": false, "zero": false}, "axis": {"values": [0,20,40,60,80,100,120,140], "title": null, "labelPadding": 3}},
    "y": {"field": "y", "type": "quantitative", "scale": {"domain": [-85, 85], "nice": false, "zero": false}, "axis": {"values": [-60,-30,0,30,60], "title": null, "labelPadding": 5, "labelExpr": "datum.value == 60 ? '60N' : datum.value == 30 ? '30N' : datum.value == 0 ? 'EQ' : datum.value == -30 ? '30S' : '60S'"}}
  },
  "layer": [
    {"data": {"name": "A"}, "transform": [{"filter": "datum.t == 'f'"}], "mark": {"type": "line", "fill": "#aaaaaa", "stroke": "#aaaaaa", "strokeWidth": 0.5, "clip": true}, "encoding": {"detail": {"field": "g"}, "order": {"value": null}}},
    {"data": {"name": "A"}, "transform": [{"filter": "datum.t == 's'"}], "mark": {"type": "line", "color": "black", "strokeWidth": 1.8, "clip": true}, "encoding": {"detail": {"field": "g"}, "order": {"value": null}}},
    {"data": {"name": "AL"}, "transform": [{"filter": "length(datum.s) == 1"}], "mark": {"type": "point", "shape": "M-1,-1L1,-1L1,1L-1,1Z", "filled": true, "color": "white", "opacity": 1, "strokeWidth": 0, "size": 169}, "encoding": {}},
    {"data": {"name": "AL"}, "transform": [{"filter": "length(datum.s) > 1"}], "mark": {"type": "point", "shape": "M-1,-0.5L1,-0.5L1,0.5L-1,0.5Z", "filled": true, "color": "white", "opacity": 1, "strokeWidth": 0, "size": 576}, "encoding": {}},
    {"data": {"name": "AL"}, "mark": {"type": "text", "fill": "black", "fontSize": 14}, "encoding": {"text": {"field": "s"}}}
  ]
},
{
  "title": {"text": "(b)\u00a0\u00a0SST"},
  "width": 590, "height": 306,
  "encoding": {
    "x": {"field": "x", "type": "quantitative", "scale": {"domain": [0, 140], "nice": false, "zero": false}, "axis": {"values": [0,20,40,60,80,100,120,140], "title": null, "labelPadding": 3}},
    "y": {"field": "y", "type": "quantitative", "scale": {"domain": [-85, 85], "nice": false, "zero": false}, "axis": {"values": [-60,-30,0,30,60], "title": null, "labelPadding": 5, "labelExpr": "datum.value == 60 ? '60N' : datum.value == 30 ? '30N' : datum.value == 0 ? 'EQ' : datum.value == -30 ? '30S' : '60S'"}}
  },
  "layer": [
    {"data": {"name": "B"}, "transform": [{"filter": "datum.t == 'f'"}], "mark": {"type": "line", "fill": "#aaaaaa", "stroke": "#aaaaaa", "strokeWidth": 0.5, "clip": true}, "encoding": {"detail": {"field": "g"}, "order": {"value": null}}},
    {"data": {"name": "B"}, "transform": [{"filter": "datum.t == 's'"}], "mark": {"type": "line", "color": "black", "strokeWidth": 1.8, "clip": true}, "encoding": {"detail": {"field": "g"}, "order": {"value": null}}},
    {"data": {"name": "BL"}, "transform": [{"filter": "length(datum.s) == 1"}], "mark": {"type": "point", "shape": "M-1,-1L1,-1L1,1L-1,1Z", "filled": true, "color": "white", "opacity": 1, "strokeWidth": 0, "size": 169}, "encoding": {}},
    {"data": {"name": "BL"}, "transform": [{"filter": "length(datum.s) > 1"}], "mark": {"type": "point", "shape": "M-1,-0.5L1,-0.5L1,0.5L-1,0.5Z", "filled": true, "color": "white", "opacity": 1, "strokeWidth": 0, "size": 576}, "encoding": {}},
    {"data": {"name": "BL"}, "mark": {"type": "text", "fill": "black", "fontSize": 14}, "encoding": {"text": {"field": "s"}}}
  ]
},
{
  "title": {"text": "(c)\u00a0\u00a0Sea\u00a0\u00a0ice\u00a0\u00a0fraction"},
  "width": 590, "height": 306,
  "encoding": {
    "x": {"field": "x", "type": "quantitative", "scale": {"domain": [0, 140], "nice": false, "zero": false}, "axis": {"values": [0,20,40,60,80,100,120,140], "title": "Time\u00a0\u00a0(a)", "labelPadding": 3, "titlePadding": 3}},
    "y": {"field": "y", "type": "quantitative", "scale": {"domain": [-85, 85], "nice": false, "zero": false}, "axis": {"values": [-60,-30,0,30,60], "title": null, "labelPadding": 5, "labelExpr": "datum.value == 60 ? '60N' : datum.value == 30 ? '30N' : datum.value == 0 ? 'EQ' : datum.value == -30 ? '30S' : '60S'"}}
  },
  "layer": [
    {"data": {"name": "C"}, "transform": [{"filter": "datum.t == 'f'"}], "mark": {"type": "line", "fill": "#aaaaaa", "stroke": "#aaaaaa", "strokeWidth": 0.5, "clip": true}, "encoding": {"detail": {"field": "g"}, "order": {"value": null}}},
    {"data": {"name": "C"}, "transform": [{"filter": "datum.t == 'd'"}], "mark": {"type": "line", "color": "black", "strokeWidth": 1.6, "strokeDash": [2, 1.5], "clip": true}, "encoding": {"detail": {"field": "g"}, "order": {"value": null}}},
    {"data": {"name": "C"}, "transform": [{"filter": "datum.t == 's'"}], "mark": {"type": "line", "color": "black", "strokeWidth": 1.8, "clip": true}, "encoding": {"detail": {"field": "g"}, "order": {"value": null}}},
    {"data": {"name": "CL"}, "transform": [{"filter": "length(datum.s) == 1"}], "mark": {"type": "point", "shape": "M-1,-1L1,-1L1,1L-1,1Z", "filled": true, "color": "white", "opacity": 1, "strokeWidth": 0, "size": 169}, "encoding": {}},
    {"data": {"name": "CL"}, "transform": [{"filter": "length(datum.s) > 1"}], "mark": {"type": "point", "shape": "M-1,-0.45L1,-0.45L1,0.45L-1,0.45Z", "filled": true, "color": "white", "opacity": 1, "strokeWidth": 0, "size": 784}, "encoding": {}},
    {"data": {"name": "CL"}, "mark": {"type": "text", "fill": "black", "fontSize": 13}, "encoding": {"text": {"field": "s"}}}
  ]
}
]
}
